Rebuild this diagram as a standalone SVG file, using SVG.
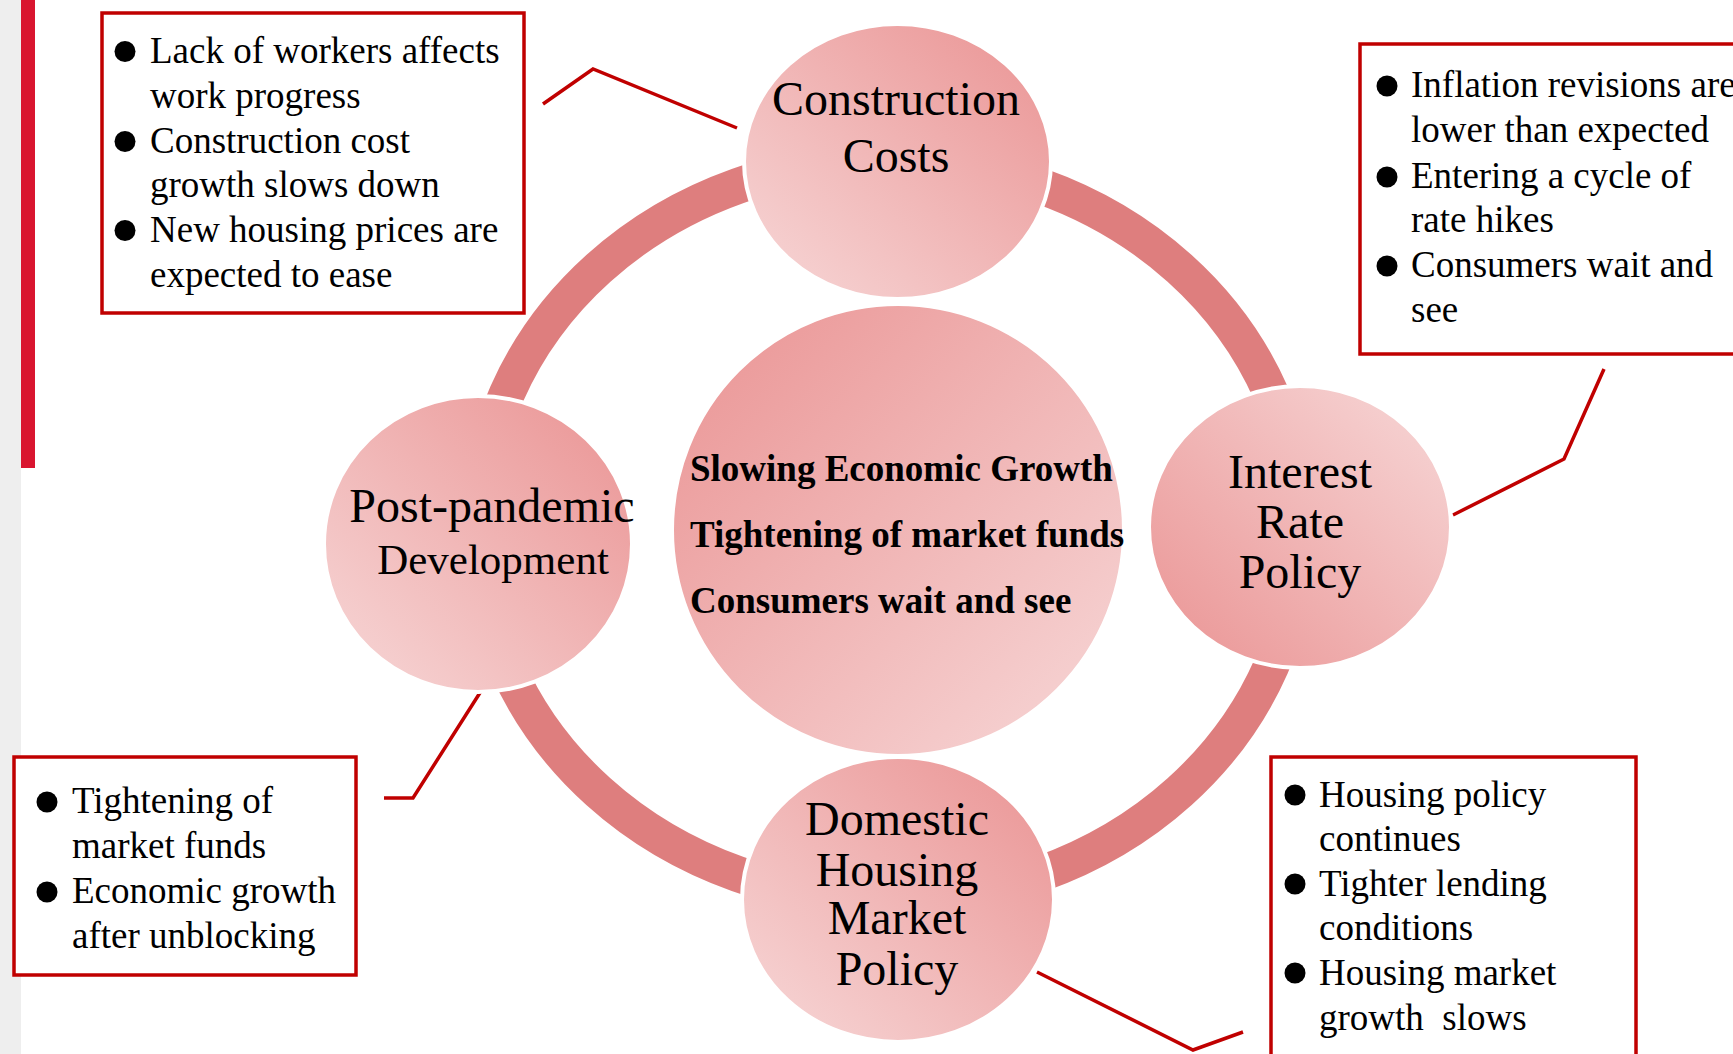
<svg xmlns="http://www.w3.org/2000/svg" width="1733" height="1054" viewBox="0 0 1733 1054">
  <defs>
    <linearGradient id="gTR" x1="1" y1="0" x2="0" y2="1">
      <stop offset="0" stop-color="#EA9393"/>
      <stop offset="1" stop-color="#F7D8D8"/>
    </linearGradient>
    <linearGradient id="gTL" x1="0" y1="0" x2="1" y2="1">
      <stop offset="0" stop-color="#EA9393"/>
      <stop offset="1" stop-color="#F7D8D8"/>
    </linearGradient>
    <linearGradient id="gBL" x1="1" y1="0" x2="0" y2="1">
      <stop offset="0" stop-color="#F7D8D8"/>
      <stop offset="1" stop-color="#EA9393"/>
    </linearGradient>
    <style>
      .node { stroke: #FFFFFF; stroke-width: 4; }
      .lbl { font-family: "Liberation Serif", "Times New Roman", serif; font-size: 48px; fill: #000; text-anchor: middle; }
      .core { font-family: "Liberation Serif", "Times New Roman", serif; font-size: 37px; font-weight: bold; fill: #000; }
      .box { fill: #FFFFFF; stroke: #C00000; stroke-width: 3.5; }
      .bt { font-family: "Liberation Serif", "Times New Roman", serif; font-size: 37px; fill: #000; }
      .bul { fill: #000; }
      .conn { fill: none; stroke: #C00000; stroke-width: 3.5; }
      .ring { fill: none; stroke: #DE7E7E; stroke-width: 36; }
    </style>
  </defs>

  <rect x="0" y="0" width="1733" height="1054" fill="#FFFFFF"/>
  <rect x="0" y="0" width="21" height="1054" fill="#EEEEEE"/>
  <rect x="21" y="0" width="14" height="468" fill="#D9152F"/>

  <g id="ring">
    <ellipse class="ring" cx="889" cy="530" rx="411" ry="370"/>
  </g>

  <g id="connectors">
    <polyline class="conn" points="543,104 593,69 737,128"/>
    <polyline class="conn" points="1604,369 1564,459 1453,515"/>
    <polyline class="conn" points="384,798 413,798 483,688"/>
    <polyline class="conn" points="1037,972 1193,1050 1243,1032"/>
  </g>

  <g id="node-center">
    <circle class="node" cx="898" cy="530" r="226" fill="url(#gTL)"/>
    <text class="core" x="690" y="481">Slowing Economic Growth</text>
    <text class="core" x="690" y="547">Tightening of market funds</text>
    <text class="core" x="690" y="613">Consumers wait and see</text>
  </g>

  <g id="node-construction">
    <ellipse class="node" cx="897.5" cy="161.5" rx="153.5" ry="137.5" fill="url(#gTR)"/>
    <text class="lbl" x="896" y="115">Construction</text>
    <text class="lbl" x="896" y="172">Costs</text>
  </g>

  <g id="node-interest">
    <ellipse class="node" cx="1300" cy="527" rx="151" ry="141" fill="url(#gBL)"/>
    <text class="lbl" x="1300" y="488">Interest</text>
    <text class="lbl" x="1300" y="538">Rate</text>
    <text class="lbl" x="1300" y="588">Policy</text>
  </g>

  <g id="node-domestic">
    <ellipse class="node" cx="898" cy="899.5" rx="156" ry="142.5" fill="url(#gTR)"/>
    <text class="lbl" x="897" y="835">Domestic</text>
    <text class="lbl" x="897" y="886">Housing</text>
    <text class="lbl" x="897" y="934">Market</text>
    <text class="lbl" x="897" y="985">Policy</text>
  </g>

  <g id="node-postpandemic">
    <ellipse class="node" cx="478" cy="544" rx="154" ry="148" fill="url(#gTR)"/>
    <text class="lbl" x="492" y="522">Post-pandemic</text>
    <text class="lbl" x="493" y="574" style="font-size:43px">Development</text>
  </g>

  <g id="box-construction">
    <rect class="box" x="102" y="13" width="422" height="300"/>
    <circle class="bul" cx="125" cy="51.5" r="10.5"/>
    <circle class="bul" cx="125" cy="141.5" r="10.5"/>
    <circle class="bul" cx="125" cy="230.5" r="10.5"/>
    <text class="bt" x="150" y="63">Lack of workers affects</text>
    <text class="bt" x="150" y="108">work progress</text>
    <text class="bt" x="150" y="153">Construction cost</text>
    <text class="bt" x="150" y="197">growth slows down</text>
    <text class="bt" x="150" y="242">New housing prices are</text>
    <text class="bt" x="150" y="287">expected to ease</text>
  </g>

  <g id="box-interest">
    <rect class="box" x="1360" y="44" width="400" height="310"/>
    <circle class="bul" cx="1387" cy="86" r="10.5"/>
    <circle class="bul" cx="1387" cy="177" r="10.5"/>
    <circle class="bul" cx="1387" cy="266" r="10.5"/>
    <text class="bt" x="1411" y="97">Inflation revisions are</text>
    <text class="bt" x="1411" y="142">lower than expected</text>
    <text class="bt" x="1411" y="188">Entering a cycle of</text>
    <text class="bt" x="1411" y="232">rate hikes</text>
    <text class="bt" x="1411" y="277">Consumers wait and</text>
    <text class="bt" x="1411" y="322">see</text>
  </g>

  <g id="box-postpandemic">
    <rect class="box" x="14" y="757" width="342" height="218"/>
    <circle class="bul" cx="47" cy="802" r="10.5"/>
    <circle class="bul" cx="47" cy="892" r="10.5"/>
    <text class="bt" x="72" y="813">Tightening of</text>
    <text class="bt" x="72" y="858">market funds</text>
    <text class="bt" x="72" y="903">Economic growth</text>
    <text class="bt" x="72" y="948">after unblocking</text>
  </g>

  <g id="box-domestic">
    <rect class="box" x="1271" y="757" width="365" height="320"/>
    <circle class="bul" cx="1295" cy="795" r="10.5"/>
    <circle class="bul" cx="1295" cy="884" r="10.5"/>
    <circle class="bul" cx="1295" cy="973" r="10.5"/>
    <text class="bt" x="1319" y="807">Housing policy</text>
    <text class="bt" x="1319" y="851">continues</text>
    <text class="bt" x="1319" y="896">Tighter lending</text>
    <text class="bt" x="1319" y="940">conditions</text>
    <text class="bt" x="1319" y="985">Housing market</text>
    <text class="bt" x="1319" y="1030" xml:space="preserve">growth  slows</text>
  </g>
</svg>
